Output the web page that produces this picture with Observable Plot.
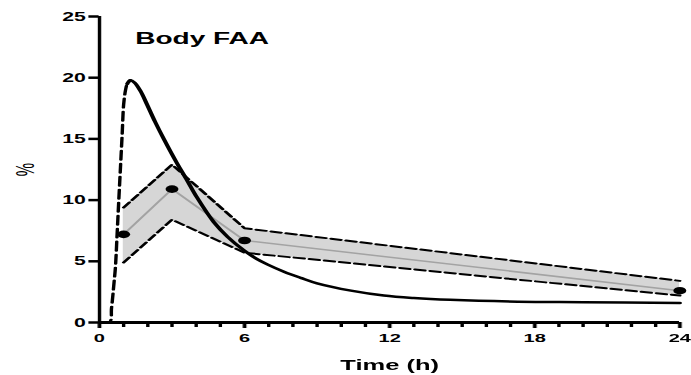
<!DOCTYPE html>
<html><head><meta charset="utf-8">
<script src="https://cdn.jsdelivr.net/npm/d3@7"></script>
<script src="https://cdn.jsdelivr.net/npm/@observablehq/plot@0.6"></script>
<style>
html,body{margin:0;padding:0;background:#fff;overflow:hidden}
#chart{width:406.5px;transform:scaleX(1.7);transform-origin:0 0}
#chart svg{display:block;overflow:visible}
#chart svg text{font-weight:bold}
#chart g[aria-label="y-axis tick label"]{font-size:12.5px}
#chart g[aria-label="x-axis tick label"]{font-size:11.8px}
#chart g[aria-label="y-axis label"]{font-size:15px}
#chart g[aria-label="y-axis label"] text{font-weight:normal}
#chart g[aria-label="x-axis label"]{font-size:15px}
</style></head><body><div id="chart"></div>
<script>
// Observed data (mean with band)
const obsTime = [1, 3, 6, 24];
const obsMean = [7.2, 10.9, 6.7, 2.6];
const obsUpper = [9.4, 12.9, 7.7, 3.4];
const obsLower = [4.9, 8.4, 5.7, 2.2];
// Model curve: rising (dashed) part
const riseTime = [0, 0.4, 0.5, 0.6, 0.66, 0.73, 0.8, 0.87, 0.94, 1.0, 1.08, 1.15, 1.28];
const riseValue = [0, 0, 1.2, 3.2, 4.5, 7.2, 10.0, 12.7, 15.4, 17.8, 19.0, 19.5, 19.8];
// Model curve: falling (solid) part
const fallTime = [1.15, 1.28, 1.45, 1.7, 1.97, 2.3, 2.66, 3.21, 3.6, 4.04, 4.73, 5.3, 5.97, 6.5, 6.94, 7.63, 8.32, 9.0, 10.4, 11.76, 13, 14.5, 17.3, 20, 24];
const fallValue = [19.5, 19.8, 19.6, 18.9, 17.8, 16.4, 15.0, 13.0, 11.7, 10.2, 8.2, 7.0, 5.9, 5.2, 4.75, 4.15, 3.65, 3.2, 2.6, 2.2, 2.0, 1.85, 1.7, 1.66, 1.6];
// Ticks and labels
const xMajorTicks = [0, 6, 12, 18, 24];
const xMinorTicks = [1,2,3,4,5,7,8,9,10,11,13,14,15,16,17,19,20,21,22,23];
const yTicks = [0, 5, 10, 15, 20, 25];
const titleText = "Body FAA";
const xLabel = "Time (h)";
const yLabel = "%";

const obs = obsTime.map((t, i) => ({t, mean: obsMean[i], upper: obsUpper[i], lower: obsLower[i]}));
const rise = riseTime.map((t, i) => ({t, v: riseValue[i]}));
const fall = fallTime.map((t, i) => ({t, v: fallValue[i]}));

const frameH = 375 - 16 - 53;

const chart = Plot.plot({
  width: 406.5, height: 375,
  marginLeft: 58, marginRight: 7.1, marginTop: 16, marginBottom: 53,
  x: {domain: [0, 24]},
  y: {domain: [0, 25]},
  style: {fontFamily: "'Liberation Sans', Arial, sans-serif", background: "#fff", color: "#000", overflow: "visible"},
  marks: [
    Plot.areaY(obs, {x: "t", y1: "lower", y2: "upper", fill: "#d6d6d6"}),
    Plot.lineY(obs, {x: "t", y: "mean", stroke: "#a3a3a3", strokeWidth: 1.5}),
    Plot.lineY(obs, {x: "t", y: "upper", stroke: "#000", strokeWidth: 2, strokeDasharray: "6,3"}),
    Plot.lineY(obs, {x: "t", y: "lower", stroke: "#000", strokeWidth: 2, strokeDasharray: "6,3"}),
    Plot.line(rise, {x: "t", y: "v", stroke: "#000", strokeWidth: 2, strokeDasharray: "9,4", curve: "catmull-rom"}),
    Plot.line(fall, {x: "t", y: "v", stroke: "#000", strokeWidth: 2.5, curve: "catmull-rom"}),
    Plot.dot(obs, {x: "t", y: "mean", r: 3.8, fill: "#000"}),
    Plot.axisY({ticks: yTicks, tickSize: 6, tickPadding: 2, strokeWidth: 2.5, label: yLabel, labelAnchor: "center", labelOffset: 49, labelArrow: "none"}),
    Plot.axisX({ticks: xMajorTicks, tickSize: 0, tickPadding: 11, label: xLabel, labelAnchor: "center", labelOffset: 47, labelArrow: "none"}),
    Plot.ruleY([0], {strokeWidth: 3}),
    Plot.ruleX([0], {strokeWidth: 2}),
    Plot.tickX(xMinorTicks, {x: d => d, stroke: "#000", strokeWidth: 2, insetTop: frameH + 5, insetBottom: 0}),
    Plot.tickX(xMajorTicks, {x: d => d, stroke: "#000", strokeWidth: 2.2, insetTop: frameH + 6, insetBottom: 0}),
    Plot.text([titleText], {frameAnchor: "top-left", dx: 21, dy: 15.7, fontSize: 16.5, fontWeight: "bold"})
  ]
});
document.getElementById("chart").appendChild(chart);
</script>
</body></html>
